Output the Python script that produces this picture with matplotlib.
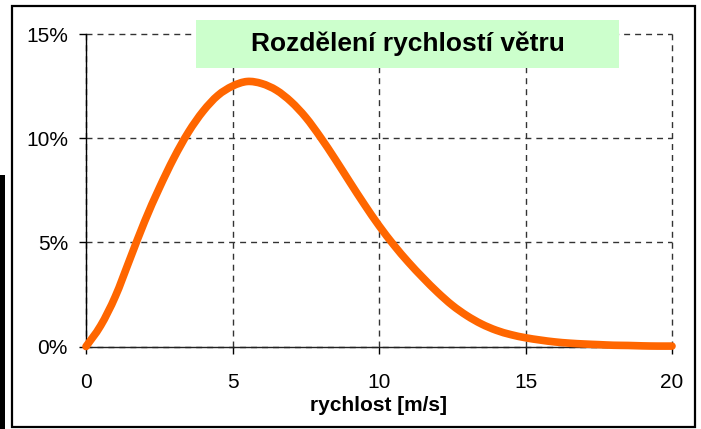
import matplotlib
matplotlib.use("Agg")
import matplotlib.pyplot as plt
import numpy as np
from matplotlib.patches import Rectangle, PathPatch
from matplotlib.path import Path
from matplotlib.ticker import FuncFormatter

plt.rcParams['font.family'] = ['Liberation Sans', 'DejaVu Sans']

# wind speed [m/s]
speed = [0, 0.5, 1, 1.5, 2, 2.5, 3, 3.5, 4, 4.5, 5, 5.5, 6, 6.5, 7, 7.5, 8, 8.5, 9, 9.5,
         10, 10.5, 11, 11.5, 12, 12.5, 13, 13.5, 14, 14.5, 15, 15.5, 16, 16.5, 17, 17.5,
         18, 18.5, 19, 19.5, 20]
# relative frequency [%]
freq = [0, 1.0, 2.4, 4.2, 6.0, 7.6, 9.05, 10.3, 11.3, 12.05, 12.5, 12.72, 12.62, 12.3,
        11.75, 11.0, 10.05, 9.0, 7.9, 6.82, 5.8, 4.88, 4.05, 3.3, 2.6, 1.98, 1.48, 1.08,
        0.78, 0.57, 0.42, 0.31, 0.22, 0.16, 0.12, 0.09, 0.06, 0.05, 0.03, 0.02, 0.02]

xticks = [0, 5, 10, 15, 20]
yticks = [0, 5, 10, 15]
title = "Rozdělení rychlostí větru"
xlabel = "rychlost [m/s]"

W, H = 701, 429
fig = plt.figure(figsize=(W / 100, H / 100), dpi=100)

# outer frame
fig.patches.append(Rectangle((12 / W, 1 - 427 / H), 683 / W, 421 / H, transform=fig.transFigure,
                             fill=False, edgecolor='black', linewidth=1.6))
# black bar at left
fig.patches.append(Rectangle((0, 0), 5 / W, 1 - 175 / H, transform=fig.transFigure,
                             facecolor='black', edgecolor='none'))

ax = fig.add_axes([86 / W, 1 - 346.5 / H, (672 - 86) / W, (346.5 - 34) / H])
ax.set_xlim(0, 20)
ax.set_ylim(0, 15)
ax.set_xticks(xticks)
ax.set_yticks(yticks)
ax.yaxis.set_major_formatter(FuncFormatter(lambda v, p: f"{v:.0f}%"))

for s in ['top', 'right']:
    ax.spines[s].set_visible(False)
ax.spines['left'].set_linewidth(1.0)
ax.spines['bottom'].set_linewidth(1.0)
ax.spines['bottom'].set_color('#222222')

ax.grid(True, color='#333333', linewidth=1.0, dashes=(4.3, 3.6))
ax.set_axisbelow(True)
for gl in ax.get_xgridlines() + ax.get_ygridlines():
    gl.set_clip_on(False)
ax.tick_params(axis='both', direction='out', length=5, width=1, labelsize=15)
ax.tick_params(axis='y', pad=8)
ax.tick_params(axis='x', pad=14)

# smoothed line (Catmull-Rom -> cubic Bezier), like a spreadsheet "smoothed line"
P = np.column_stack([speed, freq]).astype(float)
ext = np.vstack([P[0], P, P[-1]])
verts = [P[0]]
codes = [Path.MOVETO]
for i in range(len(P) - 1):
    p0, p1, p2, p3 = ext[i], ext[i + 1], ext[i + 2], ext[i + 3]
    c1 = p1 + (p2 - p0) / 6.0
    c2 = p2 - (p3 - p1) / 6.0
    verts += [c1, c2, p2]
    codes += [Path.CURVE4] * 3
patch = PathPatch(Path(verts, codes), facecolor='none', edgecolor='#FF6600',
                  linewidth=5.5, capstyle='round', joinstyle='round',
                  clip_on=False, zorder=3)
ax.add_patch(patch)

ax.set_xlabel(xlabel, fontsize=15, fontweight='bold', labelpad=3)

fig.patches.append(Rectangle((196 / W, 1 - 68 / H), (619 - 196) / W, 48 / H,
                             transform=fig.transFigure, facecolor='#CCFFCC',
                             edgecolor='none', zorder=5))
fig.text((196 + 619) / 2 / W, 1 - 44 / H, title, ha='center', va='center',
         fontsize=19, fontweight='bold', zorder=6)

fig.savefig("out.png", dpi=100)
